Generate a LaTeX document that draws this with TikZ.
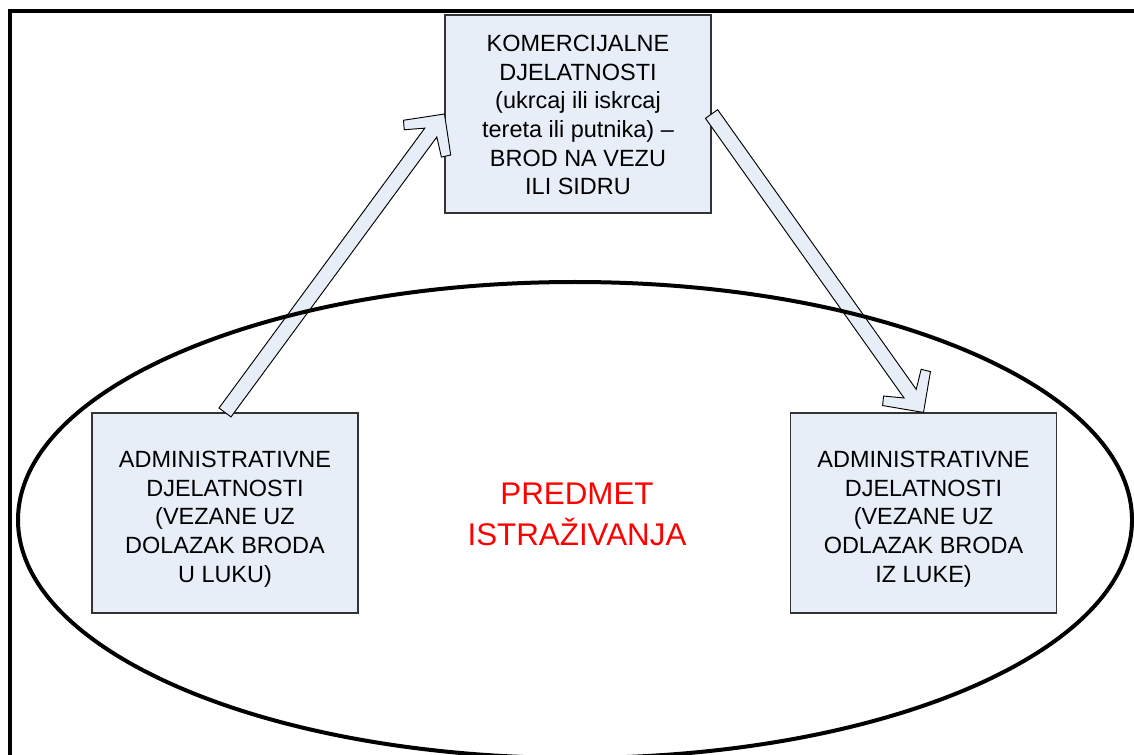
\documentclass[tikz,border=0pt]{standalone}
\usepackage{fontspec}
\setmainfont{Liberation Sans}
\usetikzlibrary{calc,shapes.geometric}
\definecolor{boxfill}{HTML}{E8EEF8}
\tikzset{
 box/.style={draw=black!80, line width=0.8pt, fill=boxfill, align=center,
   font=\fontsize{17.6}{21.4}\selectfont, inner sep=0pt},
 barrow/.style={draw=black, line width=0.7pt, fill=boxfill, line join=miter},
 frameline/.style={line width=2.3pt},
 oval/.style={ellipse, draw, line width=3pt, inner sep=0pt},
 redlabel/.style={text=red, align=center, font=\fontsize{23.5}{30.75}\selectfont}
}
\newcommand{\blockarrow}[2]{%
  \draw[barrow] let \p1=($(#1)-(#2)$), \n1={atan2(\y1,\x1)}, \n2={\n1+90}, \n3={\n1-90} in
   (#2) -- ($(#2)+(\n1:22pt)+(\n2:22pt)$)
   -- ($(#2)+(\n1:27.4pt)+(\n2:17.3pt)$)
   -- ($(#2)+(\n1:17.3pt)+(\n2:5.6pt)$)
   -- ($(#1)+(\n2:5.6pt)$)
   -- ($(#1)+(\n3:5.6pt)$)
   -- ($(#2)+(\n1:17.3pt)+(\n3:5.6pt)$)
   -- ($(#2)+(\n1:27.4pt)+(\n3:17.3pt)$)
   -- ($(#2)+(\n1:22pt)+(\n3:22pt)$) -- cycle;}
\newcommand{\topgap}{\rule{0pt}{21.6pt}}
\begin{document}
\begin{tikzpicture}[x=0.75pt,y=-0.75pt]
\useasboundingbox (0,0) rectangle (1134,755);
\draw[frameline] (10,756) -- (10,11) -- (1135,11);
\node[box, minimum width=199.5pt, minimum height=148.5pt] (T) at (578,114)
  {\rule{0pt}{14pt}KOMERCIJALNE\\DJELATNOSTI\\(ukrcaj ili iskrcaj\\tereta ili putnika) –\\BROD NA VEZU\\ILI SIDRU};
\node[box, minimum width=199.5pt, minimum height=150pt] (L) at (225,513)
  {\topgap ADMINISTRATIVNE\\DJELATNOSTI\\(VEZANE UZ\\DOLAZAK BRODA\\U LUKU)};
\node[box, minimum width=200pt, minimum height=150pt] (R) at (923.5,513)
  {\topgap ADMINISTRATIVNE\\DJELATNOSTI\\(VEZANE UZ\\ODLAZAK BRODA\\IZ LUKE)};
\node[redlabel] (P) at (577,514) {PREDMET\\ISTRAŽIVANJA};
\blockarrow{L.north}{T.west}
\blockarrow{T.east}{R.north}
\node[oval, minimum width=835.5pt, minimum height=357pt] (E) at (575,520) {};
\end{tikzpicture}
\end{document}
